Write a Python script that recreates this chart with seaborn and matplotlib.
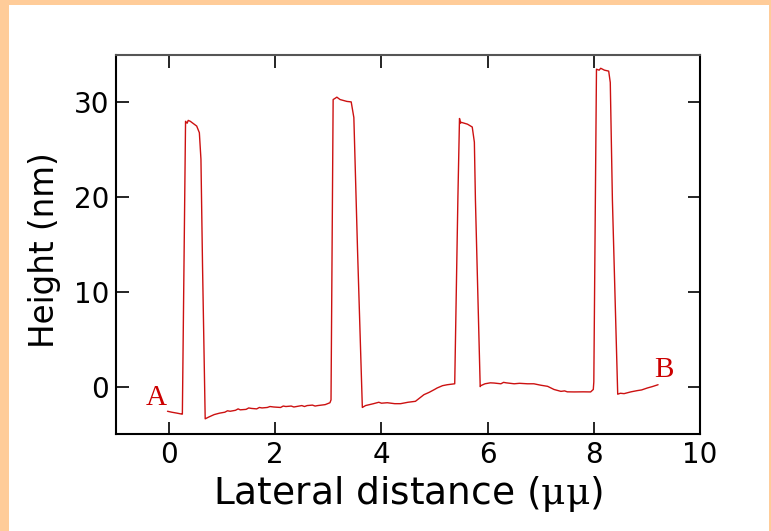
import matplotlib
matplotlib.use("Agg")
import matplotlib.pyplot as plt
import seaborn as sns
import pandas as pd
from matplotlib.patches import Rectangle

# ---- data ----
lateral_um = [-0.03, 0.05, 0.15, 0.24, 0.25, 0.31, 0.34, 0.36, 0.40, 0.52, 0.57, 0.60, 0.63, 0.68,
              0.75, 0.85, 0.95, 1.05, 1.10, 1.15, 1.25, 1.30, 1.34, 1.45, 1.50, 1.55, 1.65, 1.70,
              1.75, 1.85, 1.90, 1.97, 2.10, 2.15, 2.20, 2.30, 2.35, 2.40, 2.50, 2.55, 2.60, 2.70,
              2.75, 2.80, 2.94, 3.03, 3.05, 3.09, 3.12, 3.16, 3.22, 3.35, 3.43, 3.48, 3.55, 3.64,
              3.70, 3.85, 3.95, 4.00, 4.11, 4.25, 4.36, 4.50, 4.64, 4.72, 4.80, 4.90, 5.00, 5.05,
              5.15, 5.24, 5.38, 5.44, 5.47, 5.49, 5.50, 5.62, 5.71, 5.75, 5.77, 5.86, 5.87, 5.95,
              6.05, 6.12, 6.25, 6.30, 6.35, 6.50, 6.60, 6.75, 6.87, 7.00, 7.13, 7.25, 7.38, 7.45,
              7.50, 7.63, 7.80, 7.94, 7.99, 8.00, 8.05, 8.10, 8.13, 8.20, 8.28, 8.31, 8.35, 8.45,
              8.50, 8.57, 8.70, 8.82, 8.90, 9.01, 9.10, 9.21]
height_nm = [-2.6, -2.7, -2.8, -2.9, -2.9, 28.0, 27.8, 28.1, 28.0, 27.5, 26.8, 24.0, 12.7, -3.4,
             -3.2, -2.95, -2.8, -2.7, -2.55, -2.6, -2.5, -2.35, -2.45, -2.4, -2.25, -2.3, -2.35, -2.2,
             -2.25, -2.2, -2.1, -2.15, -2.2, -2.05, -2.1, -2.05, -2.15, -2.1, -2.0, -2.1, -2.0, -1.95,
             -2.05, -2.0, -1.9, -1.7, -1.4, 30.3, 30.4, 30.55, 30.3, 30.1, 30.05, 28.4, 14.3, -2.2,
             -2.0, -1.8, -1.65, -1.75, -1.7, -1.8, -1.8, -1.65, -1.55, -1.2, -0.85, -0.6, -0.3, -0.14,
             0.1, 0.2, 0.3, 20.0, 28.3, 27.8, 27.9, 27.7, 27.4, 25.8, 19.7, 0.0, 0.1, 0.3,
             0.4, 0.38, 0.3, 0.45, 0.4, 0.3, 0.35, 0.3, 0.3, 0.15, 0.03, -0.3, -0.5, -0.45,
             -0.55, -0.56, -0.55, -0.56, -0.3, 0.5, 33.5, 33.4, 33.6, 33.4, 33.3, 32.1, 19.7, -0.8,
             -0.7, -0.74, -0.55, -0.42, -0.35, -0.14, 0.0, 0.2]
x_ticks = [0, 2, 4, 6, 8, 10]
y_ticks = [0, 10, 20, 30]
point_labels = ["A", "B"]
label_x = [-0.24, 9.32]
label_y = [-1.2, 1.8]

df = pd.DataFrame({"x": lateral_um, "y": height_nm})

sns.set_theme(style="ticks")
plt.rcParams["font.family"] = ["DejaVu Sans"]
plt.rcParams["mathtext.fontset"] = "dejavuserif"

fig = plt.figure(figsize=(7.71, 5.31), dpi=100)
fig.patch.set_facecolor("#FFCC99")
bg = Rectangle((9 / 771, 0), (769 - 9) / 771, 526 / 531,
               transform=fig.transFigure, facecolor="white",
               edgecolor="none", zorder=-10)
fig.add_artist(bg)
ax = fig.add_axes([116 / 771, (531 - 434) / 531, 584 / 771, 379 / 531])
ax.set_zorder(1)
ax.set_facecolor("white")

sns.lineplot(data=df, x="x", y="y", ax=ax, color="#cc1111", linewidth=1.0,
             sort=False, estimator=None)

for t, xx, yy in zip(point_labels, label_x, label_y):
    ax.text(xx, yy, t, color="#cc0000", fontsize=21, family="Liberation Serif",
            ha="center", va="center")

ax.set_xlim(-1, 10)
ax.set_ylim(-5, 35)
ax.set_xticks(x_ticks)
ax.set_yticks(y_ticks)
ax.tick_params(direction="in", length=9, width=1.2, top=True, right=True,
               labelsize=20, pad=5, colors="black")
for s in ax.spines.values():
    s.set_visible(True)
    s.set_linewidth(1.5)
    s.set_color("black")
ax.spines["top"].set_color("#555555")

ax.set_xlabel(r"Lateral distance ($\mathrm{\mu\mu}$)", fontsize=27,
              family="DejaVu Sans", color="black")
ax.xaxis.set_label_coords(0.5, -0.105)
ax.set_ylabel("Height (nm)", fontsize=23.5, color="black")
ax.yaxis.set_label_coords(-0.094, 0.484)

fig.savefig("out.png", dpi=100, facecolor=fig.get_facecolor())
